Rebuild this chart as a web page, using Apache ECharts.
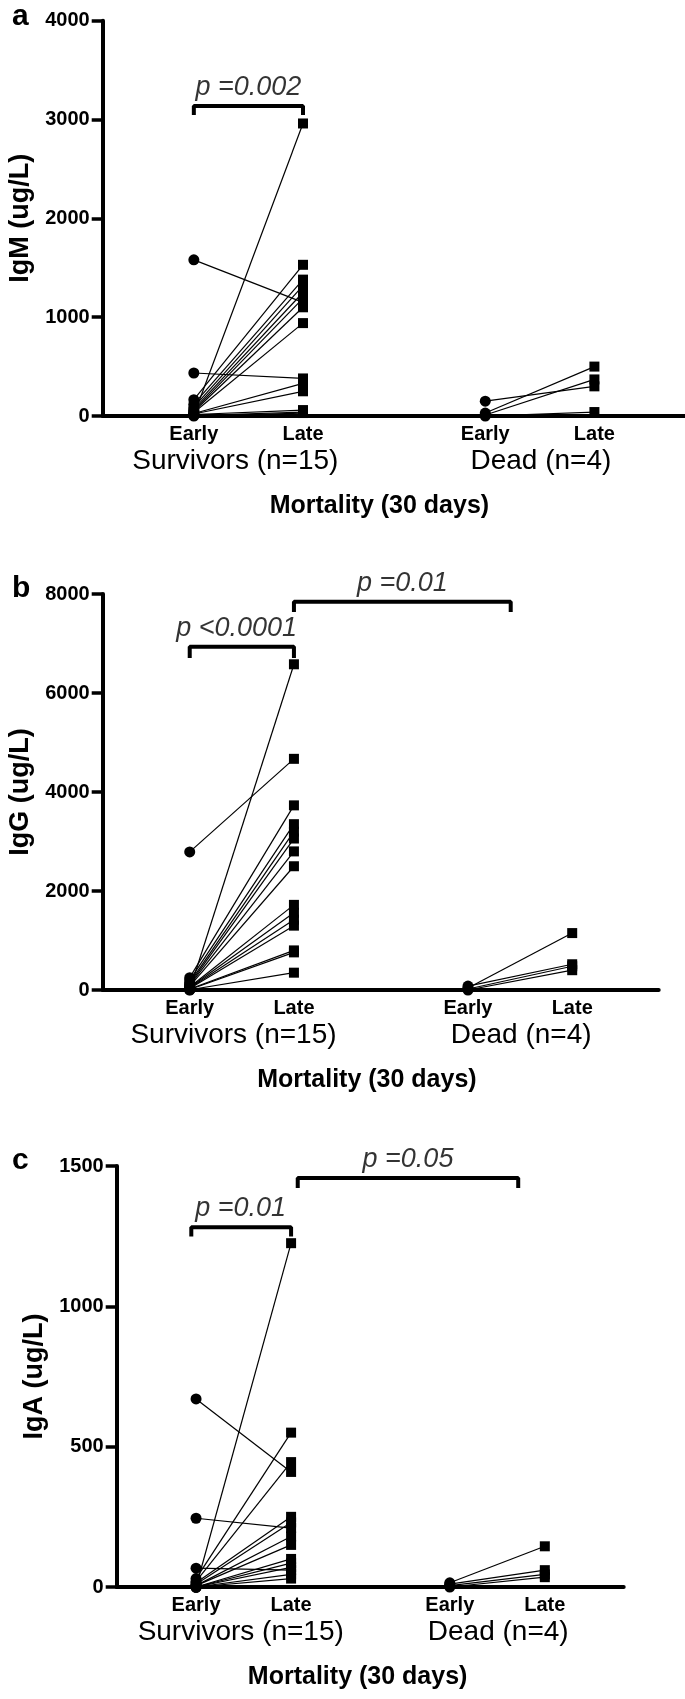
<!DOCTYPE html>
<html><head><meta charset="utf-8">
<script src="https://cdn.jsdelivr.net/npm/echarts@6/dist/echarts.min.js"></script>
<style>html,body{margin:0;padding:0;background:#fff}#c{width:685px;height:1699px}</style>
</head><body><div id="c"></div>
<script>
// ---------- data ----------
const xPositions = [1, 2, 3.67, 4.67];
const xTickLabels = ['Early', 'Late', 'Early', 'Late'];
const groupLabels = ['Survivors (n=15)', 'Dead (n=4)'];
const xTitle = 'Mortality (30 days)';
const panelLetters = ['a', 'b', 'c'];
const yTitles = ['IgM (ug/L)', 'IgG (ug/L)', 'IgA (ug/L)'];
const yMax = [4000, 8000, 1500];
const yInterval = [1000, 2000, 500];

// IgM (panel a)
const igmSurvEarly = [1580, 435, 10, 165, 120, 90, 70, 55, 45, 35, 25, 20, 15, 5, 0];
const igmSurvLate  = [1150, 380, 2960, 1530, 1380, 1320, 1250, 1190, 1100, 940, 330, 250, 60, 40, 30];
const igmDeadEarly = [150, 30, 10, 0];
const igmDeadLate  = [300, 500, 370, 40];
// IgG (panel b)
const iggSurvEarly = [2790, 0, 250, 200, 150, 120, 100, 80, 60, 50, 40, 30, 20, 10, 5];
const iggSurvLate  = [4670, 6580, 3730, 3350, 3200, 3060, 2800, 2500, 1720, 1560, 1420, 1300, 800, 760, 350];
const iggDeadEarly = [40, 80, 20, 0];
const iggDeadLate  = [1150, 520, 480, 400];
// IgA (panel c)
const igaSurvEarly = [670, 245, 67, 0, 30, 20, 15, 10, 5, 5, 0, 0, 0, 0, 0];
const igaSurvLate  = [410, 210, 60, 1225, 550, 445, 250, 230, 180, 150, 100, 85, 70, 45, 30];
const igaDeadEarly = [15, 10, 5, 0];
const igaDeadLate  = [145, 60, 45, 35];

// significance brackets: [xStart, xEnd, yBar, yTickEnd, label, labelX]
const bracketsA = [[1, 2, 3137, 3066, 'p =0.002', 1.5]];
const bracketsB = [[1, 2, 6935, 6747, 'p <0.0001', 1.45], [2, 4.08, 7844, 7677, 'p =0.01', 3.04]];
const bracketsC = [[0.95, 2, 1282, 1256, 'p =0.01', 1.47], [2.07, 4.39, 1457, 1429, 'p =0.05', 3.23]];

// ---------- layout ----------
const FONT = "'Liberation Sans', Arial, Helvetica, sans-serif";
const xMin = 0.165, xMax = 5.5;
const grids = [
  {left: 102.7, top: 20.7, width: 582.3, height: 395.3},
  {left: 102.7, top: 594, width: 556, height: 396},
  {left: 116.7, top: 1166, width: 507, height: 421}
];
const groupPos = [[1.38, 4.18], [1.42, 4.18], [1.47, 4.18]];
const titlePos = 2.7;
const letterTops = [2, 574, 1146];

const panels = [
  {se: igmSurvEarly, sl: igmSurvLate, de: igmDeadEarly, dl: igmDeadLate, br: bracketsA},
  {se: iggSurvEarly, sl: iggSurvLate, de: iggDeadEarly, dl: iggDeadLate, br: bracketsB},
  {se: igaSurvEarly, sl: igaSurvLate, de: igaDeadEarly, dl: igaDeadLate, br: bracketsC}
];

const option = {
  animation: false,
  backgroundColor: '#fff',
  title: [], grid: [], xAxis: [], yAxis: [], series: []
};

function hiddenX(gi, values, labels, margin, size, weight) {
  return {
    type: 'value', gridIndex: gi, min: xMin, max: xMax, position: 'bottom',
    axisLine: {show: false}, axisTick: {show: false}, splitLine: {show: false},
    axisLabel: {
      show: true, customValues: values, margin: margin,
      formatter: (v) => { const i = values.findIndex(p => Math.abs(p - v) < 1e-6); return i >= 0 ? labels[i] : ''; },
      color: '#000', fontFamily: FONT, fontSize: size, fontWeight: weight
    }
  };
}

panels.forEach((p, gi) => {
  option.grid.push(Object.assign({containLabel: false, outerBoundsMode: 'none'}, grids[gi]));
  option.title.push({
    text: panelLetters[gi], left: 12, top: letterTops[gi], padding: 0,
    textStyle: {fontFamily: FONT, fontSize: 30, fontWeight: 'bold', color: '#000'}
  });
  // main x axis with Early / Late
  option.xAxis.push({
    type: 'value', gridIndex: gi, min: xMin, max: xMax, position: 'bottom',
    axisLine: {show: true, onZero: false, lineStyle: {color: '#000', width: 4}},
    axisTick: {show: false}, splitLine: {show: false},
    axisLabel: {
      show: true, customValues: xPositions, margin: 8,
      formatter: (v) => { const i = xPositions.findIndex(q => Math.abs(q - v) < 1e-6); return i >= 0 ? xTickLabels[i] : ''; },
      color: '#000', fontFamily: FONT, fontSize: 20, fontWeight: 'bold'
    }
  });
  option.xAxis.push(hiddenX(gi, groupPos[gi], groupLabels, 31, 28, 'normal'));
  option.xAxis.push(hiddenX(gi, [titlePos], [xTitle], 78, 25, 'bold'));
  option.yAxis.push({
    type: 'value', gridIndex: gi, min: 0, max: yMax[gi], interval: yInterval[gi],
    name: yTitles[gi], nameLocation: 'middle', nameGap: 68, nameRotate: 90,
    nameTextStyle: {color: '#000', fontFamily: FONT, fontSize: 27, fontWeight: 'bold'},
    axisLine: {show: true, onZero: false, lineStyle: {color: '#000', width: 4}},
    axisTick: {show: true, inside: false, length: 11, lineStyle: {color: '#000', width: 3.5}},
    splitLine: {show: false},
    axisLabel: {show: true, margin: 13, color: '#000', fontFamily: FONT, fontSize: 20, fontWeight: 'bold',
      formatter: (v) => String(v)}
  });
  const xi = gi * 3;
  const addPairs = (early, late, x0, x1) => {
    early.forEach((e, i) => {
      option.series.push({
        type: 'line', xAxisIndex: xi, yAxisIndex: gi, silent: true, z: 3,
        data: [
          {value: [x0, e], symbol: 'circle', symbolSize: 11},
          {value: [x1, late[i]], symbol: 'rect', symbolSize: 10}
        ],
        showSymbol: true, lineStyle: {color: '#000', width: 1.2},
        itemStyle: {color: '#000'}, emphasis: {disabled: true}
      });
    });
  };
  addPairs(p.se, p.sl, xPositions[0], xPositions[1]);
  addPairs(p.de, p.dl, xPositions[2], xPositions[3]);
  p.br.forEach(b => {
    option.series.push({
      type: 'line', xAxisIndex: xi, yAxisIndex: gi, silent: true, z: 4,
      data: [[b[0], b[3]], [b[0], b[2]], [b[1], b[2]], [b[1], b[3]]],
      showSymbol: false, symbol: 'none', lineStyle: {color: '#000', width: 4, cap: 'square'},
      emphasis: {disabled: true}
    });
    option.series.push({
      type: 'scatter', xAxisIndex: xi, yAxisIndex: gi, silent: true, z: 4,
      symbolSize: 0, data: [[b[5], b[2]]],
      label: {show: true, position: 'top', distance: 5, formatter: b[4],
        color: '#000', fontFamily: FONT, fontSize: 27, fontStyle: 'italic', lineHeight: 27},
      emphasis: {disabled: true}
    });
  });
});

const chart = echarts.init(document.getElementById('c'), null, {renderer: 'canvas'});
chart.setOption(option);
</script>
</body></html>
